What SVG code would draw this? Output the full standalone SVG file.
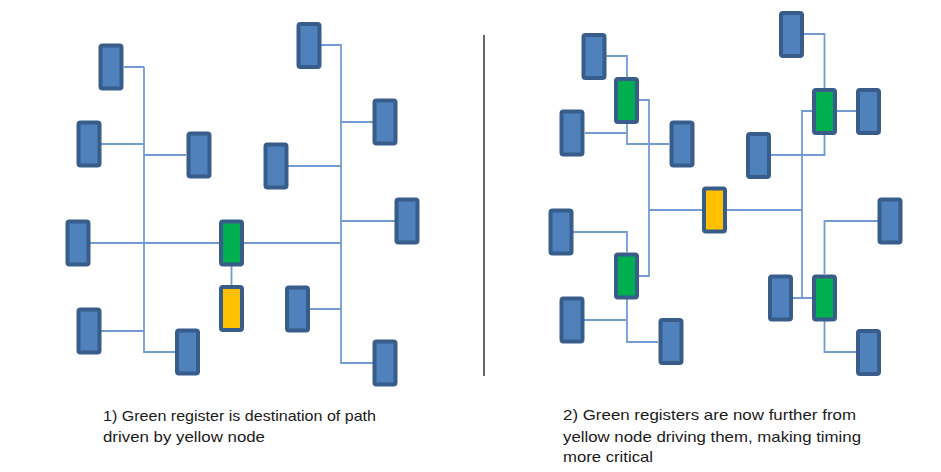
<svg xmlns="http://www.w3.org/2000/svg" width="941" height="472" viewBox="0 0 941 472">
<style>
.b{fill:#4f81bd;stroke:#385d8a;stroke-width:4}
.g{fill:#00b050;stroke:#385d8a;stroke-width:4}
.y{fill:#ffc000;stroke:#385d8a;stroke-width:4}
.w{fill:none;stroke:#729bd3;stroke-width:1.8}
.t{font-family:"Liberation Sans",Arial,sans-serif;font-size:15px;fill:#1a1a1a}
</style>
<rect width="941" height="472" fill="#fff"/>
<g id="connectors">
<path class="w" d="M144,67V352H176M124,67H144M101,144H144M144,155H186M90,243H341M101,331H144M231.5,266V285"/>
<path class="w" d="M321,45H341V363H373M341,122H373M288,166H341M341,221H395M310,309H341"/>
<path class="w" d="M606,56H627V77M639,100H649V276H639M649,210H702M585,133H627M627,124V144H669M573,232H627V252M584,320H627M627,299V342H658M727,210H802"/>
<path class="w" d="M804,34H824.5V88M837,111H856M812,111H802V298H812M824.5,135V155H771M878,221H824.5V274M793,298H812M824.5,321V352H856"/>
<line x1="484" y1="35" x2="484" y2="376" stroke="#000" stroke-width="1.2"/>
</g>
<g id="left-A"><rect class="b" x="100.5" y="45.5" width="21" height="43" rx="2"/></g>
<g id="left-B"><rect class="b" x="78.5" y="122.5" width="21" height="43" rx="2"/></g>
<g id="left-C"><rect class="b" x="188.5" y="133.5" width="21" height="43" rx="2"/></g>
<g id="left-D"><rect class="b" x="67.5" y="221.5" width="21" height="43" rx="2"/></g>
<g id="left-green"><rect class="g" x="221" y="221.5" width="21" height="43" rx="2"/></g>
<g id="left-yellow"><rect class="y" x="221" y="287" width="21" height="43" rx="2"/></g>
<g id="left-E"><rect class="b" x="78.5" y="309.5" width="21" height="43" rx="2"/></g>
<g id="left-F"><rect class="b" x="177" y="330.5" width="21" height="43" rx="2"/></g>
<g id="left-G"><rect class="b" x="298.5" y="24" width="21" height="43" rx="2"/></g>
<g id="left-H"><rect class="b" x="374.5" y="100.5" width="21" height="43" rx="2"/></g>
<g id="left-I"><rect class="b" x="265.5" y="144.5" width="21" height="43" rx="2"/></g>
<g id="left-J"><rect class="b" x="396.5" y="199.5" width="21" height="43" rx="2"/></g>
<g id="left-K"><rect class="b" x="287" y="287.5" width="21" height="43" rx="2"/></g>
<g id="left-L"><rect class="b" x="374.5" y="341.5" width="21" height="43" rx="2"/></g>
<g id="right-M"><rect class="b" x="583.5" y="35" width="21" height="43" rx="2"/></g>
<g id="right-G1"><rect class="g" x="616" y="79" width="21" height="43" rx="2"/></g>
<g id="right-N"><rect class="b" x="561.5" y="111.5" width="21" height="43" rx="2"/></g>
<g id="right-O"><rect class="b" x="671.5" y="122.5" width="21" height="43" rx="2"/></g>
<g id="right-yellow"><rect class="y" x="704" y="188.5" width="21" height="43" rx="2"/></g>
<g id="right-P"><rect class="b" x="550.5" y="210.5" width="21" height="43" rx="2"/></g>
<g id="right-G2"><rect class="g" x="616" y="254.5" width="21" height="43" rx="2"/></g>
<g id="right-Q"><rect class="b" x="561.5" y="298.5" width="21" height="43" rx="2"/></g>
<g id="right-R"><rect class="b" x="660.5" y="320" width="21" height="43" rx="2"/></g>
<g id="right-S"><rect class="b" x="781" y="13" width="21" height="43" rx="2"/></g>
<g id="right-G3"><rect class="g" x="814" y="90" width="21" height="43" rx="2"/></g>
<g id="right-T"><rect class="b" x="858" y="90" width="21" height="43" rx="2"/></g>
<g id="right-U"><rect class="b" x="748" y="134" width="21" height="43" rx="2"/></g>
<g id="right-V"><rect class="b" x="879.5" y="199.5" width="21" height="43" rx="2"/></g>
<g id="right-W"><rect class="b" x="770" y="276.5" width="21" height="43" rx="2"/></g>
<g id="right-G4"><rect class="g" x="814" y="276.5" width="21" height="43" rx="2"/></g>
<g id="right-X"><rect class="b" x="858" y="331" width="21" height="43" rx="2"/></g>
<g id="caption-1">
<text class="t" x="103" y="421" textLength="273" lengthAdjust="spacingAndGlyphs">1) Green register is destination of path</text>
<text class="t" x="103" y="442" textLength="162" lengthAdjust="spacingAndGlyphs">driven by yellow node</text>
</g>
<g id="caption-2">
<text class="t" x="563" y="420" textLength="293" lengthAdjust="spacingAndGlyphs">2) Green registers are now further from</text>
<text class="t" x="563" y="441.5" textLength="298" lengthAdjust="spacingAndGlyphs">yellow node driving them, making timing</text>
<text class="t" x="563" y="462" textLength="90" lengthAdjust="spacingAndGlyphs">more critical</text>
</g>
</svg>
